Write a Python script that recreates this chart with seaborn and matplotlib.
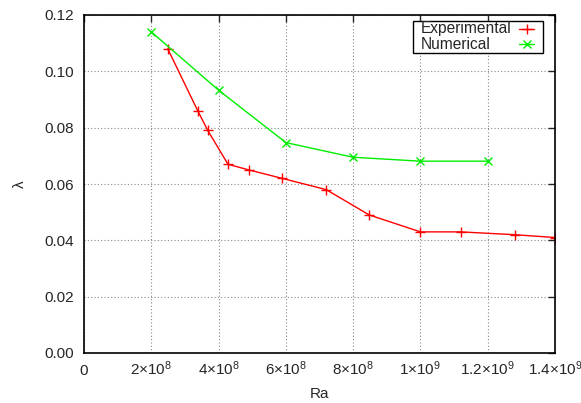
import matplotlib
matplotlib.use('Agg')
import matplotlib.pyplot as plt
import seaborn as sns
from matplotlib.lines import Line2D
from matplotlib.patches import Rectangle
from matplotlib.ticker import FixedLocator, FixedFormatter

# Data
exp_ra = [2.49e8, 3.38e8, 3.68e8, 4.28e8, 4.9e8, 5.89e8, 7.2e8, 8.48e8, 1.0e9, 1.12e9, 1.28e9, 1.4e9]
exp_lam = [0.108, 0.086, 0.079, 0.067, 0.065, 0.062, 0.058, 0.049, 0.043, 0.043, 0.042, 0.041]
num_ra = [2e8, 4e8, 6e8, 8e8, 1.0e9, 1.2e9]
num_lam = [0.114, 0.0933, 0.0747, 0.0695, 0.0681, 0.0681]

xticks = [0, 2e8, 4e8, 6e8, 8e8, 1e9, 1.2e9, 1.4e9]
xticklabels = ['0', r'2$\times$10$^{8}$', r'4$\times$10$^{8}$', r'6$\times$10$^{8}$', r'8$\times$10$^{8}$',
               r'1$\times$10$^{9}$', r'1.2$\times$10$^{9}$', r'1.4$\times$10$^{9}$']
yticks = [0, 0.02, 0.04, 0.06, 0.08, 0.10, 0.12]
yticklabels = ['0.00', '0.02', '0.04', '0.06', '0.08', '0.10', '0.12']

red = '#ff0000'
green = '#00ee00'

sns.set_style('white')
plt.rcParams['font.family'] = ['Liberation Sans', 'DejaVu Sans']
plt.rcParams['mathtext.fontset'] = 'custom'
plt.rcParams['mathtext.rm'] = 'Liberation Sans'
plt.rcParams['mathtext.it'] = 'Liberation Sans'
plt.rcParams['mathtext.sf'] = 'Liberation Sans'

fig = plt.figure(figsize=(5.81, 4.03), dpi=100)
ax = fig.add_axes([84 / 581, 50 / 403, 471 / 581, 338 / 403])

sns.lineplot(x=exp_ra, y=exp_lam, ax=ax, color=red, marker='+', markersize=7,
             markeredgewidth=1, markeredgecolor=red, linewidth=1, sort=False)
sns.lineplot(x=num_ra, y=num_lam, ax=ax, color=green, marker='x', markersize=6,
             markeredgewidth=1, markeredgecolor=green, linewidth=1, sort=False)

ax.set_xlim(0, 1.4e9)
ax.set_ylim(0, 0.12)
ax.xaxis.set_major_locator(FixedLocator(xticks))
ax.xaxis.set_major_formatter(FixedFormatter(xticklabels))
ax.yaxis.set_major_locator(FixedLocator(yticks))
ax.yaxis.set_major_formatter(FixedFormatter(yticklabels))
ax.tick_params(direction='in', length=5, width=1, top=True, right=True, labelsize=11)
ax.tick_params(axis='y', pad=7)
ax.tick_params(axis='x', pad=15.5)
for lbl in ax.get_xticklabels():
    lbl.set_verticalalignment('baseline')
ax.grid(True, color='#888888', linestyle=(0, (1, 2)), linewidth=0.8)
for s in ax.spines.values():
    s.set_color('black')
    s.set_linewidth(1.2)

ax.set_xlabel('Ra', fontsize=11, labelpad=7)
ax.set_ylabel('λ', fontsize=11, labelpad=13)

# gnuplot-style key: text left, sample at right
ax.add_patch(Rectangle((0.6979, 0.8885), 0.2773, 0.0947, transform=ax.transAxes,
                       facecolor='white', edgecolor='black', linewidth=1, zorder=5))
key = [('Experimental', red, '+', 7, 0.9459, 0.9586), ('Numerical', green, 'x', 6, 0.8985, 0.9142)]
for lab, col, mk, ms, ytxt, yline in key:
    ax.text(0.7145, ytxt, lab, transform=ax.transAxes, fontsize=11.2, va='baseline', ha='left', zorder=6)
    ax.add_line(Line2D([0.9236, 0.9554], [yline, yline], transform=ax.transAxes, color=col, linewidth=1, zorder=6))
    ax.add_line(Line2D([0.9395], [yline], transform=ax.transAxes, color=col, marker=mk, markersize=ms,
                       markeredgewidth=1, linestyle='none', zorder=6))

fig.savefig('out.png', dpi=100)
